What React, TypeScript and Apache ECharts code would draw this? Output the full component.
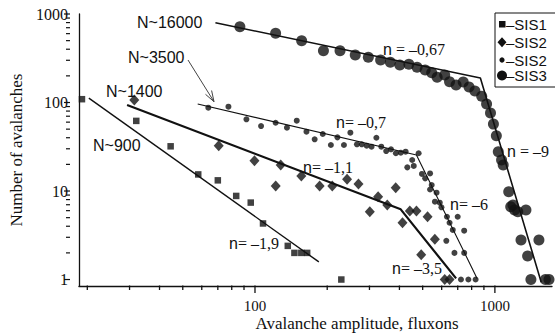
import React, { useEffect, useRef } from "react";
import * as echarts from "echarts";

// Axis extents (log-log)
const X_MIN = 18.45;
const X_MAX = 1730;
const Y_MIN = 0.845;
const Y_MAX = 1000;

const xLabelValues = [100, 1000];
const yLabelValues = [1, 10, 100, 1000];
const xTickValues = [20, 30, 40, 50, 60, 70, 80, 90, 100, 200, 300, 400, 500, 600, 700, 800, 900, 1000];
const yTickValues = [1, 2, 3, 4, 5, 6, 7, 8, 9, 10, 20, 30, 40, 50, 60, 70, 80, 90, 100, 200, 300, 400, 500, 600, 700, 800, 900, 1000];

// SIS1 (squares, N~900)
const sis1X = [19, 32, 44.5, 58, 70, 83.5, 96, 108, 137, 146, 156, 165, 229];
const sis1Y = [109, 62, 32, 15.4, 13.2, 8.8, 7.4, 4.3, 2.4, 2, 2, 2, 1];
const sis1LineX = [20.3, 184.6];
const sis1LineY = [112, 1.58];

// SIS2 (diamonds, N~1400)
const sis2dX = [31.4, 70.6, 99.5, 122, 128, 156, 186, 210, 242, 270, 301, 326, 356, 386, 412, 442, 471, 493, 524, 562, 618, 647];
const sis2dY = [107, 32.5, 22, 11.4, 19.7, 14.8, 11.4, 11.4, 13.6, 12, 5.84, 8.6, 6.95, 10.9, 4.38, 5.94, 5.94, 1.9, 5.12, 2.85, 1, 1];
const sis2dLineX = [29.3, 405, 689];
const sis2dLineY = [93.7, 6.21, 1.03];

// SIS2 (small dots, N~3500)
const sis2sX = [63.9, 77.5, 92.1, 106, 121.9, 135.9, 149.3, 163.9, 177.3, 191.6, 207.2, 220.6, 234.9, 249.8, 266, 278.7, 292.1, 306.1, 320.7, 336.1, 352.2, 369, 386.7, 405.3, 424.6, 431.5, 452.1, 459, 480.9, 496.6, 512.1, 536.7, 545.3, 536.7, 571.3, 562.3, 589.2, 598.7, 631, 699.6, 647.1, 667.4, 744.7, 627.5, 678.4, 744.7, 722.1, 775.3, 831];
const sis2sY = [87.4, 89.7, 64.6, 54.2, 59.1, 51.9, 62.3, 46.8, 38.4, 44.1, 33.1, 40.4, 33.1, 45.6, 33.7, 33.7, 32.5, 31.7, 40, 31.7, 28.3, 29.6, 26.7, 27.1, 27.8, 18.5, 22.4, 19.2, 26.7, 15.6, 13.9, 15.8, 11.7, 10.4, 9.57, 7.57, 7.38, 6.54, 5.12, 5.12, 4.38, 3.63, 3.56, 2.74, 2, 2, 1, 1, 1];
const sis2sLineX = [57.7, 471, 843];
const sis2sLineY = [96.2, 25.5, 1.03];

// SIS3 (big dots, N~16000)
const sis3X = [86.5, 121.9, 156.5, 192.9, 226.2, 261.8, 296.8, 333.9, 366.6, 401.5, 438.1, 473.9, 512.1, 545.3, 574.5, 617.6, 647.1, 689, 737.8, 780.4, 825.5, 881.2, 923.4, 958.7, 986, 1014, 1033, 1066, 1083, 1142, 1164, 1189, 1208, 1246, 1347, 1285, 1526, 1369, 1413, 1624, 1681];
const sis3Y = [719, 605, 499, 385, 385, 344, 324, 302, 285, 265, 270, 250, 233, 217, 193, 205, 172, 158, 170, 150, 135, 118, 96, 76, 57, 42, 27.8, 22.4, 19.7, 9.8, 6.65, 6.95, 6.1, 5.84, 6.1, 2.79, 2.79, 1.84, 1, 1, 1];
const sis3LineX = [68.4, 870, 1560];
const sis3LineY = [797, 189, 0.93];

const zip = (xs: number[], ys: number[]) => xs.map((x, i) => [x, ys[i]]);
const isPow10 = (v: number) => Math.abs(Math.log10(v) - Math.round(Math.log10(v))) < 1e-6;

const INK = "#111";
const SANS = "Liberation Sans, Arial, sans-serif";
const SERIF = "Liberation Serif, Times New Roman, serif";

const GRID_LEFT = 70;
const GRID_TOP = 14;
const GRID_BOTTOM = 48;
const H = 334;

function nLabel(text: string, x: number, y: number) {
  return {
    type: "text",
    x,
    y,
    silent: true,
    style: {
      text: "{a|n}{b|" + text.slice(1) + "}",
      rich: {
        a: { fontFamily: SANS, fontSize: 16, fill: INK, color: INK },
        b: { fontFamily: SERIF, fontSize: 16, fill: INK, color: INK },
      },
      fill: INK,
      align: "left",
      verticalAlign: "middle",
      textAlign: "left",
      textVerticalAlign: "middle",
    },
  };
}

function plainText(text: string, x: number, y: number, family: string, size: number, align = "left") {
  return {
    type: "text",
    x,
    y,
    silent: true,
    style: {
      text,
      fontFamily: family,
      fontSize: size,
      fill: INK,
      align,
      verticalAlign: "middle",
      textAlign: align,
      textVerticalAlign: "middle",
    },
  };
}

const baseGraphic: any[] = [
  plainText("Avalanche amplitude, fluxons", 357, 323, SERIF, 17, "center"),
  plainText("N~16000", 137, 22, SANS, 16),
  plainText("N~3500", 128, 57, SANS, 16),
  plainText("N~1400", 106, 91, SANS, 16),
  plainText("N~900", 93, 145, SANS, 16),
  { type: "line", silent: true, shape: { x1: 188, y1: 60, x2: 214, y2: 101.7 }, style: { stroke: "#444", lineWidth: 1 } },
  { type: "polyline", silent: true, shape: { points: [[211.6, 90.5], [214, 101.7], [205.5, 94.3]] }, style: { stroke: "#444", lineWidth: 1, fill: null } },
  nLabel("n = –0,67", 383, 49),
  nLabel("n= –0,7", 336, 122),
  nLabel("n= –1,1", 303, 167),
  nLabel("n= –1,9", 229, 243),
  nLabel("n= –6", 450, 204),
  nLabel("n= –3,5", 392, 268),
  nLabel("n = –9", 507, 151),
  { type: "rect", silent: true, shape: { x: 495, y: 13, width: 62, height: 74 }, style: { fill: "#fff", stroke: INK, lineWidth: 1 } },
  { type: "rect", silent: true, shape: { x: 499, y: 21, width: 6.5, height: 6.5 }, style: { fill: INK } },
  plainText("–SIS1", 506, 24.5, SANS, 15),
  { type: "polygon", silent: true, shape: { points: [[502, 37.3], [506.5, 42.3], [502, 47.3], [497.5, 42.3]] }, style: { fill: INK } },
  plainText("–SIS2", 506, 42.5, SANS, 15),
  { type: "circle", silent: true, shape: { cx: 502, cy: 60, r: 2.6 }, style: { fill: INK } },
  plainText("–SIS2", 506, 60, SANS, 15),
  { type: "circle", silent: true, shape: { cx: 502, cy: 75.5, r: 5 }, style: { fill: INK } },
  plainText("–SIS3", 506, 75.5, SANS, 15),
];

export default function App() {
  const ref = useRef<HTMLDivElement>(null);
  useEffect(() => {
    const chart = echarts.init(ref.current!, null, { renderer: "svg" });
    const option: any = {
      animation: false,
      backgroundColor: "#fff",
      grid: { left: GRID_LEFT, right: 0, top: GRID_TOP, bottom: GRID_BOTTOM, containLabel: false },
      xAxis: {
        type: "log",
        logBase: 10,
        min: X_MIN,
        max: X_MAX,
        axisLine: { show: true, onZero: false, lineStyle: { color: INK, width: 1.3 } },
        axisTick: { show: false },
        minorTick: { show: false },
        splitLine: { show: false },
        axisLabel: {
          margin: 12,
          fontFamily: SERIF,
          fontSize: 15,
          color: INK,
          formatter: (v: number) => (xLabelValues.some((t) => Math.abs(t - v) / t < 1e-6) ? String(Math.round(v)) : ""),
        },
      },
      yAxis: {
        type: "log",
        logBase: 10,
        min: Y_MIN,
        max: Y_MAX,
        name: "Number of avalanches",
        nameLocation: "middle",
        nameGap: 39,
        nameTextStyle: { fontFamily: SERIF, fontSize: 17, color: INK },
        axisLine: { show: true, onZero: false, lineStyle: { color: INK, width: 1.3 } },
        axisTick: { show: false },
        minorTick: { show: false },
        splitLine: { show: false },
        axisLabel: {
          margin: 11,
          fontFamily: SERIF,
          fontSize: 16,
          color: INK,
          formatter: (v: number) => (yLabelValues.some((t) => Math.abs(t - v) / t < 1e-6) ? String(Math.round(v)) : ""),
        },
      },
      series: [
        { type: "line", name: "SIS1 fit", data: zip(sis1LineX, sis1LineY), showSymbol: false, silent: true, lineStyle: { color: INK, width: 1.4 } },
        { type: "line", name: "SIS2 fit", data: zip(sis2dLineX, sis2dLineY), showSymbol: false, silent: true, lineStyle: { color: INK, width: 2.2 } },
        { type: "line", name: "SIS2s fit", data: zip(sis2sLineX, sis2sLineY), showSymbol: false, silent: true, lineStyle: { color: INK, width: 1.1 } },
        { type: "line", name: "SIS3 fit", data: zip(sis3LineX, sis3LineY), showSymbol: false, silent: true, lineStyle: { color: INK, width: 1.6 } },
        { type: "scatter", name: "SIS1", data: zip(sis1X, sis1Y), symbol: "rect", symbolSize: 6.5, itemStyle: { color: INK } },
        { type: "scatter", name: "SIS2", data: zip(sis2dX, sis2dY), symbol: "diamond", symbolSize: [10, 11], itemStyle: { color: INK } },
        { type: "scatter", name: "SIS2 ", data: zip(sis2sX, sis2sY), symbol: "circle", symbolSize: 6, itemStyle: { color: INK } },
        { type: "scatter", name: "SIS3", data: zip(sis3X, sis3Y), symbol: "circle", symbolSize: 11, itemStyle: { color: INK } },
      ],
      graphic: baseGraphic,
    };
    chart.setOption(option);

    // Tick marks placed through the chart's own log scales
    const axisY = H - GRID_BOTTOM;
    const axisX = GRID_LEFT;
    const ticks: any[] = [];
    try {
      xTickValues.forEach((v) => {
        let px: any = chart.convertToPixel({ xAxisIndex: 0 }, v);
        if (Array.isArray(px)) px = px[0];
        if (typeof px !== "number" || !isFinite(px)) {
          const p: any = chart.convertToPixel({ seriesIndex: 4 }, [v, 10]);
          px = p && p[0];
        }
        if (typeof px !== "number" || !isFinite(px)) return;
        const len = isPow10(v) ? 7 : 4;
        ticks.push({ type: "rect", silent: true, z: 50, shape: { x: px - 0.65, y: axisY - 0.5, width: 1.3, height: len + 0.5 }, style: { fill: INK } });
      });
      yTickValues.forEach((v) => {
        const p: any = chart.convertToPixel({ seriesIndex: 4 }, [100, v]);
        if (!p || !isFinite(p[1])) return;
        const len = isPow10(v) ? 6 : 4;
        ticks.push({ type: "rect", silent: true, z: 50, shape: { x: axisX - len, y: p[1] - 0.6, width: len, height: 1.2 }, style: { fill: INK } });
      });
    } catch (e) {
      // ignore
    }
    chart.setOption({ graphic: [...baseGraphic, ...ticks] });

    return () => chart.dispose();
  }, []);
  return <div ref={ref} style={{ position: "absolute", left: 0, top: 0, width: 555, height: 334, background: "#fff" }} />;
}
